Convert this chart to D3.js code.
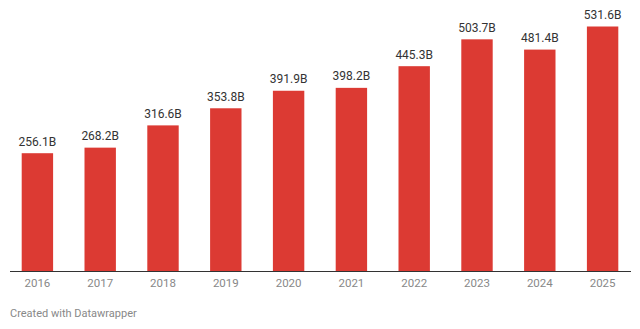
<!DOCTYPE html>
<html><head><meta charset="utf-8">
<script src="https://cdn.jsdelivr.net/npm/d3@7"></script>
<style>body{margin:0;background:#fff;font-family:Roboto,"Noto Sans",sans-serif;}</style>
</head><body>
<svg id="c" width="640" height="329"></svg>
<script>
const years = ["2016","2017","2018","2019","2020","2021","2022","2023","2024","2025"];
const values = [256.1,268.2,316.6,353.8,391.9,398.2,445.3,503.7,481.4,531.6];
const labels = ["256.1B","268.2B","316.6B","353.8B","391.9B","398.2B","445.3B","503.7B","481.4B","531.6B"];

const svg = d3.select("#c");
const x = d3.scaleBand().domain(years).range([6,634]).paddingInner(0.5).paddingOuter(0.25);
const y = d3.scaleLinear().domain([0,531.6]).range([271,26.5]);

svg.selectAll("rect.bar").data(values).join("rect")
  .attr("class","bar")
  .attr("x",(d,i)=>x(years[i]))
  .attr("width",x.bandwidth())
  .attr("y",d=>y(d))
  .attr("height",d=>y(0)-y(d))
  .attr("fill","#dc3a33");

svg.selectAll("text.val").data(values).join("text")
  .attr("class","val")
  .attr("x",(d,i)=>x(years[i])+x.bandwidth()/2)
  .attr("y",d=>y(d)-7.5)
  .attr("text-anchor","middle")
  .attr("font-size",12)
  .attr("fill","#333")
  .text((d,i)=>labels[i]);

const xAxis = d3.axisBottom(x).tickSize(0).tickPadding(8);
const g = svg.append("g").attr("transform","translate(0,271)").call(xAxis);
g.select(".domain").remove();
g.selectAll("text").attr("font-size",11.5).attr("fill","#888").attr("font-family","Roboto,sans-serif");
svg.append("line").attr("x1",10).attr("x2",631).attr("y1",271.5).attr("y2",271.5)
  .attr("stroke","#333").attr("stroke-width",1);

svg.append("text").attr("x",10).attr("y",317).attr("font-size",11).attr("fill","#888")
  .text("Created with Datawrapper");
</script>
</body></html>
